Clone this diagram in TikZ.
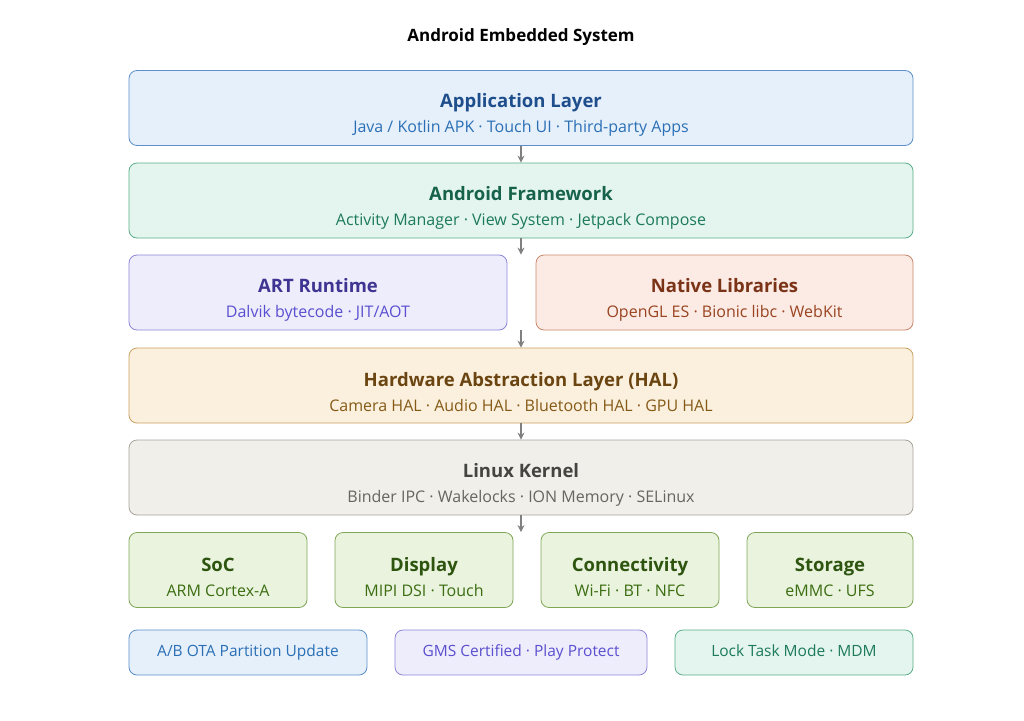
\documentclass[tikz,border=0pt]{standalone}
\usepackage{fontspec}
\setmainfont{Open Sans}
\usetikzlibrary{positioning, calc, arrows.meta}
\definecolor{appfill}{HTML}{E6F0FB}\definecolor{appline}{HTML}{5B8FC9}\definecolor{apptext}{HTML}{1F4E8C}\definecolor{appsub}{HTML}{2A6FB5}
\definecolor{fwfill}{HTML}{E3F5EE}\definecolor{fwline}{HTML}{5BAE8A}\definecolor{fwtext}{HTML}{17624A}\definecolor{fwsub}{HTML}{1D7A5A}
\definecolor{artfill}{HTML}{EEEDFC}\definecolor{artline}{HTML}{8C86D9}\definecolor{arttext}{HTML}{3E3491}\definecolor{artsub}{HTML}{5A4FCF}
\definecolor{natfill}{HTML}{FBEBE4}\definecolor{natline}{HTML}{C9876B}\definecolor{nattext}{HTML}{7A3317}\definecolor{natsub}{HTML}{9A4421}
\definecolor{halfill}{HTML}{FBF0DD}\definecolor{halline}{HTML}{C9A05E}\definecolor{haltext}{HTML}{6B4511}\definecolor{halsub}{HTML}{855A17}
\definecolor{kerfill}{HTML}{F1EFEA}\definecolor{kerline}{HTML}{A8A49C}\definecolor{kertext}{HTML}{444441}\definecolor{kersub}{HTML}{66655F}
\definecolor{hwfill}{HTML}{EAF3DE}\definecolor{hwline}{HTML}{7FA656}\definecolor{hwtext}{HTML}{2E5510}\definecolor{hwsub}{HTML}{3B6D11}
\begin{document}
\begin{tikzpicture}[x=1pt, y=-1pt,
  layer/.style={rectangle, rounded corners=8pt, draw, line width=0.8pt, align=center, inner sep=0pt, minimum height=75pt},
  tag/.style={rectangle, rounded corners=8pt, draw, line width=0.8pt, inner sep=0pt, minimum height=45pt, text height=11pt, text depth=4pt, font=\fontsize{15.5}{18}\selectfont},
  flow/.style={-{Stealth[length=7pt, width=7pt]}, draw=gray, line width=1.2pt}
]
\useasboundingbox (0,0) rectangle (1024,720);
\newcommand{\lay}[4]{{\color{#1}\fontsize{18.5}{24}\selectfont\bfseries\rule{0pt}{28pt}#2\rule[-5pt]{0pt}{5pt}}\\{\color{#3}\fontsize{16}{19}\selectfont\rule{0pt}{19pt}#4}}

    % Title
    \node[font=\fontsize{17}{20}\selectfont\bfseries] (title) at (521,37) {Android Embedded System};

    % Layers
    \node[layer, fill=appfill, draw=appline, minimum width=784pt] (app) at (521,108) {\lay{apptext}{Application Layer}{appsub}{Java / Kotlin APK · Touch UI · Third-party Apps}};
    \node[layer, fill=fwfill, draw=fwline, minimum width=784pt] (fw) at (521,200.5) {\lay{fwtext}{Android Framework}{fwsub}{Activity Manager · View System · Jetpack Compose}};
    \node[layer, fill=artfill, draw=artline, minimum width=378pt] (art) at (318,292.5) {\lay{arttext}{ART Runtime}{artsub}{Dalvik bytecode · JIT/AOT}};
    \node[layer, fill=natfill, draw=natline, minimum width=377pt] (nat) at (724.5,292.5) {\lay{nattext}{Native Libraries}{natsub}{OpenGL ES · Bionic libc · WebKit}};
    \node[layer, fill=halfill, draw=halline, minimum width=784pt] (hal) at (521,385.5) {\lay{haltext}{Hardware Abstraction Layer (HAL)}{halsub}{Camera HAL · Audio HAL · Bluetooth HAL · GPU HAL}};
    \node[layer, fill=kerfill, draw=kerline, minimum width=784pt] (ker) at (521,477.5) {\lay{kertext}{Linux Kernel}{kersub}{Binder IPC · Wakelocks · ION Memory · SELinux}};

    % Hardware
    \node[layer, fill=hwfill, draw=hwline, minimum width=178pt] (soc) at (218,570) {\lay{hwtext}{SoC}{hwsub}{ARM Cortex-A}};
    \node[layer, fill=hwfill, draw=hwline, minimum width=178pt] (disp) at (424,570) {\lay{hwtext}{Display}{hwsub}{MIPI DSI · Touch}};
    \node[layer, fill=hwfill, draw=hwline, minimum width=178pt] (conn) at (630,570) {\lay{hwtext}{Connectivity}{hwsub}{Wi-Fi · BT · NFC}};
    \node[layer, fill=hwfill, draw=hwline, minimum width=166pt] (stor) at (830,570) {\lay{hwtext}{Storage}{hwsub}{eMMC · UFS}};

    % Tags
    \node[tag, fill=appfill, draw=appline, text=appsub, minimum width=238pt] (ota) at (248,652.5) {A/B OTA Partition Update};
    \node[tag, fill=artfill, draw=artline, text=artsub, minimum width=252pt] (gms) at (521,652.5) {GMS Certified · Play Protect};
    \node[tag, fill=fwfill, draw=fwline, text=fwsub, minimum width=238pt] (mdm) at (794,652.5) {Lock Task Mode · MDM};

    % Arrows
    \draw[flow] (app.south) -- (fw.north);
    \draw[flow] (fw.south) -- (fw.south |- art.north);
    \draw[flow] (fw.south |- art.south) -- (hal.north);
    \draw[flow] (hal.south) -- (ker.north);
    \draw[flow] (ker.south) -- (ker.south |- soc.north);
\end{tikzpicture}
\end{document}
